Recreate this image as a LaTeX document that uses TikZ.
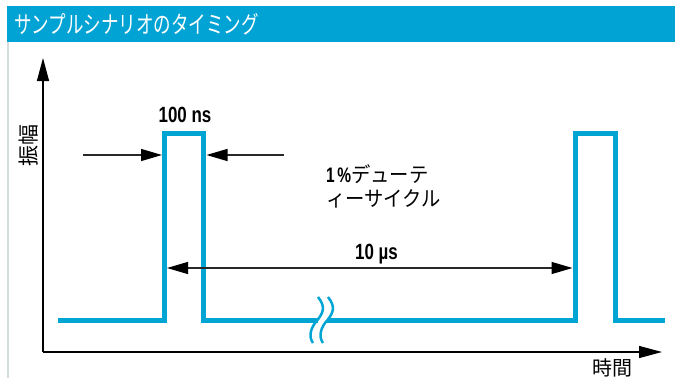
\documentclass[tikz,border=0pt]{standalone}
\usepackage{fontspec}
\newfontfamily\jp{Noto Sans CJK JP}
\newfontfamily\lat{Liberation Sans}
\usetikzlibrary{arrows.meta}
\definecolor{sigblue}{RGB}{0,165,212}
\definecolor{barblue}{RGB}{0,163,212}
\definecolor{edgegray}{RGB}{212,220,222}
\definecolor{dimgray}{RGB}{40,40,40}
\tikzset{
  signal/.style={draw=sigblue, line width=5pt, line join=miter, line cap=butt},
  axisline/.style={draw=black, line width=1.3pt, -{Triangle[length=23pt,width=12pt]}},
  dimline/.style={draw=dimgray, line width=1.3pt},
  dimtip/.style={-{Triangle[length=21pt,width=12pt,color=black]}},
  dimtips/.style={{Triangle[length=21pt,width=12pt,color=black]}-{Triangle[length=21pt,width=12pt,color=black]}},
  lbl/.style={inner sep=0pt, text=black},
  breakline/.style={draw=sigblue, line width=2.5pt},
}
\begin{document}
\begin{tikzpicture}[x=1pt,y=-1pt]
\useasboundingbox (0,0) rectangle (675,378);
% title bar
\fill[barblue] (7,6) rectangle (675,42);
\node[lbl, anchor=west, text=white, font=\jp\fontsize{24pt}{24pt}\selectfont] (title) at (14,24.5) {\scalebox{0.73}[1]{サンプルシナリオのタイミング}};
\draw[edgegray, line width=1.5pt] (8,42) -- (8,378);
% axes
\coordinate (origin) at (43,352);
\coordinate (ytop) at (43,58);
\coordinate (xend) at (662,352);
\draw[axisline] (origin) -- (ytop);
\draw[axisline] (origin) -- (xend);
% signal
\coordinate (s0) at (58,320);
\coordinate (p1l) at (164.5,320);
\coordinate (p1lt) at (164.5,133);
\coordinate (p1rt) at (203.5,133);
\coordinate (p1r) at (203.5,320);
\coordinate (p2l) at (575,320);
\coordinate (p2lt) at (575,133);
\coordinate (p2rt) at (615,133);
\coordinate (p2r) at (615,320);
\coordinate (s1) at (665,320);
\draw[signal] (s0) -- (p1l) -- (p1lt) -- (p1rt) -- (p1r) -- (p2l) -- (p2lt) -- (p2rt) -- (p2r) -- (s1);
% break mark
\draw[white, line width=7pt] (318,320) -- (327,320);
\draw[breakline] (318,297) .. controls (326,307) and (323,313) .. (317.5,320) .. controls (311,327) and (308,336) .. (313,343);
\draw[breakline] (328,297) .. controls (336,307) and (333,313) .. (327.5,320) .. controls (321,327) and (318,336) .. (323,343);
% 100 ns dimension
\coordinate (a1s) at (83,155);
\coordinate (a1e) at (162,155);
\coordinate (a2s) at (284,155);
\coordinate (a2e) at (206.5,155);
\draw[dimline, dimtip] (a1s) -- (a1e);
\draw[dimline, dimtip] (a2s) -- (a2e);
\node[lbl, font=\lat\bfseries\fontsize{22pt}{22pt}\selectfont] (ns) at (185,115) {\scalebox{0.77}[1]{100 ns}};
% duty cycle label
\node[lbl, anchor=west, align=left, font=\jp\fontsize{21pt}{24pt}\selectfont] (duty) at (326,186)
  {\scalebox{0.92}[1]{{\lat\bfseries\scalebox{0.8}[1]{1\,\%}}デューテ}\\\scalebox{0.92}[1]{ィーサイクル}};
% 10 us dimension
\coordinate (b1) at (167,268);
\coordinate (b2) at (572.5,268);
\draw[dimline, dimtips] (b1) -- (b2);
\node[lbl, font=\lat\bfseries\fontsize{22pt}{22pt}\selectfont] (us) at (376.5,254) {\scalebox{0.77}[1]{10 µs}};
% axis labels
\node[lbl, rotate=90, font=\jp\fontsize{21pt}{21pt}\selectfont] (amp) at (29,145) {振幅};
\node[lbl, font=\jp\fontsize{20pt}{20pt}\selectfont] (time) at (612,368) {時間};
\end{tikzpicture}
\end{document}
